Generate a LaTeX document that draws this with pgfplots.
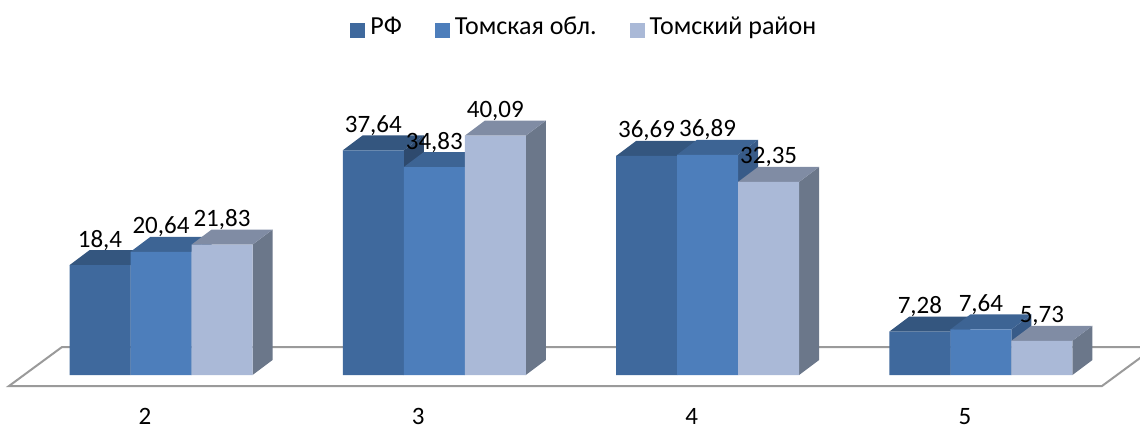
\documentclass[border=0pt]{standalone}
\usepackage{fontspec}
\setmainfont{Carlito}
\usepackage{pgfplots}
\usepackage{pgfplotstable}
\pgfplotsset{compat=1.18}
\definecolor{rffront}{HTML}{3F699D}
\definecolor{rftop}{HTML}{34567F}
\definecolor{rfside}{HTML}{2E4A6E}
\definecolor{oblfront}{HTML}{4D7EBB}
\definecolor{obltop}{HTML}{3D6494}
\definecolor{oblside}{HTML}{385B88}
\definecolor{rayfront}{HTML}{AAB9D7}
\definecolor{raytop}{HTML}{808CA4}
\definecolor{rayside}{HTML}{6B778A}
\definecolor{floorcol}{HTML}{9A9A9A}
\pgfplotstableread{
x rf obl ray
2 18.4 20.64 21.83
3 37.64 34.83 40.09
4 36.69 36.89 32.35
5 7.28 7.64 5.73
}\data
% geometry in axis units (1 x unit = 273.3pt, 1 y unit = 5.97pt)
\def\bw{0.2232}
\def\hw{0.1116}
\def\dx{0.0732}
\def\dy{2.5126}
\newcommand\barfaces[4]{%
  \pgfmathsetmacro\xl{#1-\hw}%
  \pgfmathsetmacro\xr{#1+\hw}%
  \pgfmathsetmacro\xld{#1-\hw+\dx}%
  \pgfmathsetmacro\xrd{#1+\hw+\dx}%
  \pgfmathsetmacro\vt{#2+\dy}%
  \edef\doit{%
    \noexpand\addplot[fill=#4, draw=none, forget plot] coordinates {(\xr,0) (\xrd,\dy) (\xrd,\vt) (\xr,#2)} -- cycle;
    \noexpand\addplot[fill=#3, draw=none, forget plot] coordinates {(\xl,#2) (\xld,\vt) (\xrd,\vt) (\xr,#2)} -- cycle;
  }\doit
}
\begin{document}
\fontsize{25}{30}\selectfont
\begin{tikzpicture}
\begin{axis}[
  scale only axis, width=1140pt, height=431pt,
  xmin=1.41090, xmax=5.58214, ymin=-9.380, ymax=62.814,
  axis line style={draw=none}, major tick length=0pt,
  ytick=\empty, xtick={2,3,4,5},
  xticklabel style={anchor=base, inner ysep=0pt, xshift=-16pt, yshift=7pt},
  /pgf/number format/use comma,
  /pgf/number format/assume math mode=true,
  every node near coord/.append style={anchor=base, yshift=18pt, font=\fontsize{25}{30}\selectfont},
  sqlegend/.style={legend image code/.code={\fill[##1] (0pt,-10pt) rectangle (15pt,5pt); \path (18pt,0pt);}},
  legend style={at={(0.5125,0.935)}, anchor=center, draw=none, fill=none,
    legend columns=3, font=\fontsize{26}{30}\selectfont,
    /tikz/every even column/.append style={column sep=31pt}},
]
\addplot[fill=white, draw=floorcol, line width=2pt, forget plot]
  coordinates {(1.4438,-1.843) (5.4431,-1.843) (5.6370,4.690) (1.6378,4.690)} -- cycle;
\pgfplotsforeachungrouped \i in {0,1,2,3}{%
  \pgfplotstablegetelem{\i}{x}\of\data \let\cx\pgfplotsretval
  \pgfplotstablegetelem{\i}{rf}\of\data \let\va\pgfplotsretval
  \pgfplotstablegetelem{\i}{obl}\of\data \let\vb\pgfplotsretval
  \pgfplotstablegetelem{\i}{ray}\of\data \let\vc\pgfplotsretval
  \pgfmathsetmacro\ca{\cx-\bw}\pgfmathsetmacro\cc{\cx+\bw}%
  \barfaces{\ca}{\va}{rftop}{rfside}%
  \barfaces{\cx}{\vb}{obltop}{oblside}%
  \barfaces{\cc}{\vc}{raytop}{rayside}%
}
\addplot[ybar, bar width=61pt, bar shift=-61pt, fill=rffront, draw=none, sqlegend,
  nodes near coords, every node near coord/.append style={xshift=-61pt}] table[x=x,y=rf]{\data};
\addplot[ybar, bar width=61pt, bar shift=0pt, fill=oblfront, draw=none, sqlegend,
  nodes near coords] table[x=x,y=obl]{\data};
\addplot[ybar, bar width=61pt, bar shift=61pt, fill=rayfront, draw=none, sqlegend,
  nodes near coords, every node near coord/.append style={xshift=61pt}] table[x=x,y=ray]{\data};
\legend{РФ, Томская обл., Томский район}
\end{axis}
\pgfresetboundingbox
\path (current axis.south west) rectangle (current axis.north east);
\end{tikzpicture}
\end{document}
